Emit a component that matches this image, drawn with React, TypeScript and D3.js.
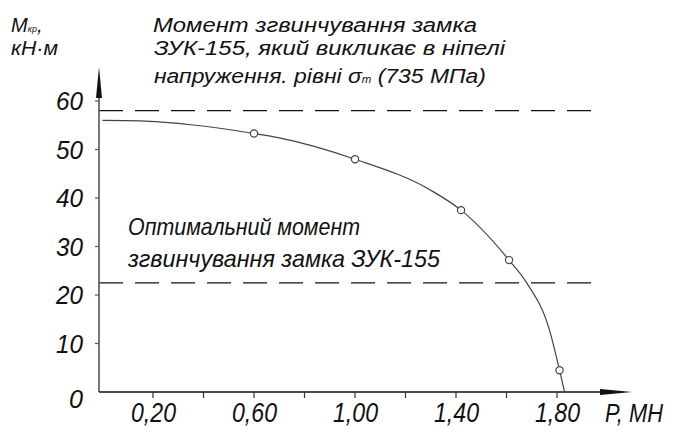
import React from 'react';
import * as d3 from 'd3';

// кривая M(P)
const P_CURVE = [0, 0.15, 0.35, 0.6, 0.7, 1.0, 1.3, 1.42, 1.61, 1.68, 1.77, 1.81, 1.83];
const M_CURVE = [56, 55.9, 55.1, 53.3, 52.4, 48.0, 41.6, 37.5, 27.2, 22.5, 12.8, 4.5, 0];

// експериментальні точки
const P_POINTS = [0.6, 1.0, 1.42, 1.61, 1.81];
const M_POINTS = [53.3, 48.0, 37.5, 27.2, 4.5];

const M_LIMIT = 58;
const M_OPTIMAL = 22.5;

const X_TICKS = [0.2, 0.4, 0.6, 0.8, 1.0, 1.2, 1.4, 1.6, 1.8];
const X_LABELED = [0.2, 0.6, 1.0, 1.4, 1.8];
const X_LABELS = ['0,20', '0,60', '1,00', '1,40', '1,80'];
const Y_TICKS = [0, 10, 20, 30, 40, 50, 60];

const TITLE_LINES = [
  'Момент згвинчування замка',
  'ЗУК-155, який викликає в ніпелі',
];

const FONT = '"Liberation Sans", Arial, sans-serif';

export default function App() {
  const width = 674;
  const height = 432;

  const x = d3.scaleLinear().domain([0, 1.8]).range([102.5, 557]);
  const y = d3.scaleLinear().domain([0, 60]).range([392, 101]);

  const axisX = x(0) - 3.5;
  const axisY = y(0);
  const xEnd = 632;
  const yTop = 67;
  const dashEnd = 603;

  const curve = d3
    .line<number>()
    .x((d, i) => x(P_CURVE[i]))
    .y((d) => y(d))
    .curve(d3.curveMonotoneX);

  const txt = { fontFamily: FONT, fontStyle: 'italic', fill: '#111' } as React.CSSProperties;
  const fit = 'spacingAndGlyphs';

  return (
    <svg
      width={width}
      height={height}
      style={{ position: 'absolute', left: 0, top: 0, background: '#fff' }}
    >
      {/* горизонтальні пунктирні лінії */}
      {[M_LIMIT, M_OPTIMAL].map((m) => (
        <line
          key={m}
          x1={axisX}
          x2={dashEnd}
          y1={y(m)}
          y2={y(m)}
          stroke="#111"
          strokeWidth={1.2}
          strokeDasharray="24 12"
        />
      ))}

      {/* осі */}
      <line x1={axisX} x2={axisX} y1={axisY} y2={yTop + 10} stroke="#555" strokeWidth={1.6} />
      <path d={`M${axisX},${yTop} L${axisX - 3},${yTop + 31} L${axisX + 3},${yTop + 31} Z`} fill="#111" />
      <line x1={axisX} x2={xEnd - 10} y1={axisY} y2={axisY} stroke="#111" strokeWidth={1.3} />
      <path d={`M${xEnd},${axisY} L${xEnd - 32},${axisY - 3} L${xEnd - 32},${axisY + 3} Z`} fill="#111" />

      {/* поділки осі Y */}
      {Y_TICKS.filter((t) => t > 0).map((t) => (
        <line key={t} x1={axisX - 4} x2={axisX} y1={y(t)} y2={y(t)} stroke="#555" strokeWidth={1.2} />
      ))}
      {Y_TICKS.map((t) => (
        <text
          key={t}
          x={83}
          y={y(t) + (t === 0 ? 7 : 0)}
          textAnchor="end"
          dominantBaseline="central"
          fontSize={26}
          style={txt}
          textLength={t === 0 ? 14 : 27}
          lengthAdjust={fit}
        >
          {t}
        </text>
      ))}

      {/* поділки осі X */}
      {X_TICKS.map((t) => (
        <line key={t} x1={x(t)} x2={x(t)} y1={axisY} y2={axisY + 6} stroke="#333" strokeWidth={1.2} />
      ))}
      {X_LABELED.map((t, i) => (
        <text
          key={t}
          x={x(t) - 22}
          y={422}
          fontSize={27}
          style={txt}
          textLength={45}
          lengthAdjust={fit}
        >
          {X_LABELS[i]}
        </text>
      ))}

      {/* крива */}
      <path d={curve(M_CURVE) ?? ''} fill="none" stroke="#444" strokeWidth={1.2} />
      {P_POINTS.map((p, i) => (
        <circle key={p} cx={x(p)} cy={y(M_POINTS[i])} r={3.6} fill="#fff" stroke="#444" strokeWidth={1.2} />
      ))}

      {/* підписи осей */}
      <text x={11} y={32} fontSize={20} style={txt}>
        M<tspan fontSize={9}>кр</tspan>,
      </text>
      <text x={11} y={55} fontSize={20} style={txt} textLength={47} lengthAdjust={fit}>
        кН·м
      </text>
      <text x={605} y={422} fontSize={26} style={txt} textLength={58} lengthAdjust={fit}>
        P, МН
      </text>

      {/* заголовок */}
      <text x={153} y={32} fontSize={20} style={txt} textLength={324} lengthAdjust={fit}>
        {TITLE_LINES[0]}
      </text>
      <text x={154} y={55} fontSize={20} style={txt} textLength={351} lengthAdjust={fit}>
        {TITLE_LINES[1]}
      </text>
      <text x={154} y={83} fontSize={20} style={txt} textLength={332} lengthAdjust={fit}>
        напруження. рівні σ<tspan fontSize={10}>т</tspan> (735 МПа)
      </text>

      {/* оптимальний момент */}
      <text x={128} y={235} fontSize={24} style={txt} textLength={232} lengthAdjust={fit}>
        Оптимальний момент
      </text>
      <text x={128} y={267} fontSize={24} style={txt} textLength={312} lengthAdjust={fit}>
        згвинчування замка ЗУК-155
      </text>
    </svg>
  );
}
